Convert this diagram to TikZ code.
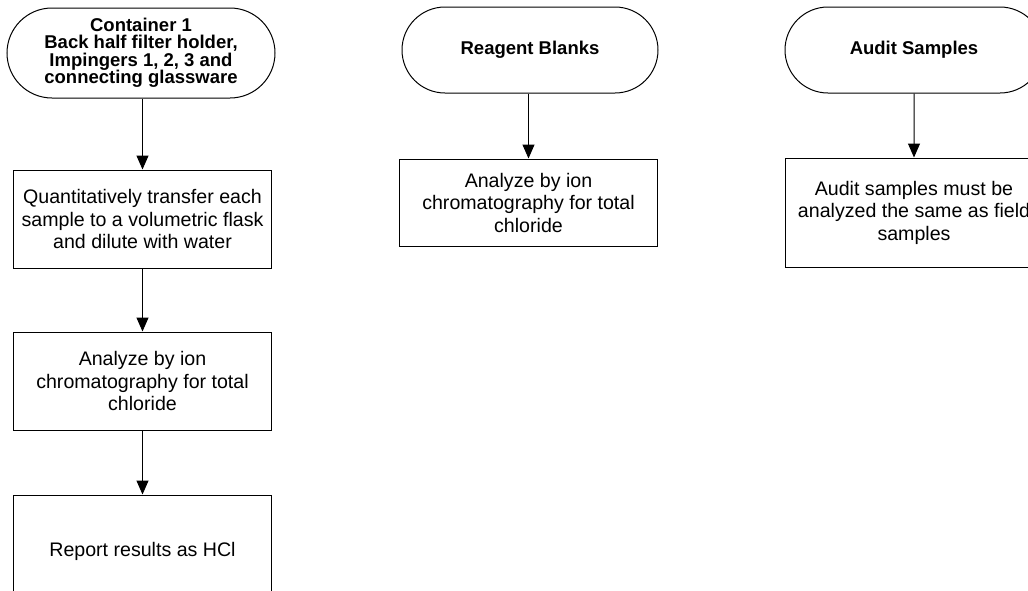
\documentclass[tikz,border=0pt]{standalone}
\usepackage{fontspec}
\setmainfont{Liberation Sans}
\usetikzlibrary{shapes.misc,arrows.meta}

\begin{document}
\begin{tikzpicture}[x=1pt,y=-1pt,
	termi/.style={rounded rectangle,draw,line width=1pt,inner sep=0pt,align=center,
		font=\fontsize{18.5}{17.5}\selectfont\bfseries},
	stepbox/.style={rectangle,draw,line width=1pt,inner sep=0pt,align=center,
		minimum width=258pt,font=\fontsize{19.6}{22.5}\selectfont},
	arr/.style={line width=1pt,-{Triangle[width=12pt,length=14pt]}}]
	
	% Frame
	\useasboundingbox (0,0) rectangle (1028,590);
	
	% Container 1
	\node[termi,minimum width=268pt,minimum height=90pt] (cont) at (141,53)
	{Container 1\\Back half filter holder,\\Impingers 1, 2, 3 and\\connecting glassware};
	\node[stepbox,minimum height=98pt] (transf) at (142.5,219)
	{Quantitatively transfer each\\sample to a volumetric flask\\and dilute with water};
	\node[stepbox,minimum height=98pt] (anal) at (142.5,381)
	{Analyze by ion\\chromatography for total\\chloride};
	\node[stepbox,minimum height=112pt] (report) at (142.5,551)
	{Report results as HCl};
	
	% Reagent blanks
	\node[termi,minimum width=256pt,minimum height=86pt] (blank) at (530,50)
	{Reagent Blanks};
	\node[stepbox,minimum height=87pt] (blankan) at (528.5,202.5)
	{Analyze by ion\\chromatography for total\\chloride};
	
	% Audit samples
	\node[termi,minimum width=258pt,minimum height=86pt] (audit) at (914,50)
	{Audit Samples};
	\node[stepbox,minimum height=109pt] (auditan) at (914,212.5)
	{Audit samples must be\\analyzed the same as field\\samples};
	
	% Arrows
	\draw[arr] (cont.south -| transf.north) -- (transf.north);
	\draw[arr] (transf) -- (anal);
	\draw[arr] (anal) -- (report);
	\draw[arr] (blank.south -| blankan.north) -- (blankan.north);
	\draw[arr] (audit) -- (auditan);
	
\end{tikzpicture}
\end{document}
